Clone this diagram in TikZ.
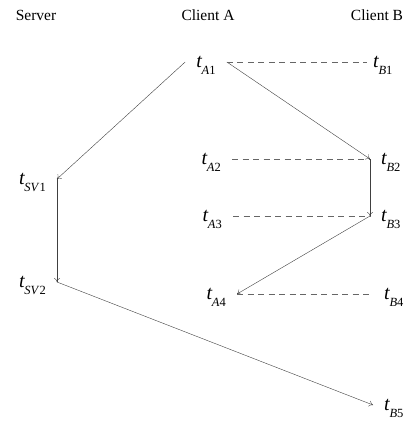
\documentclass[tikz,border=0pt]{standalone}
\usepackage{fontspec}
\setmainfont{Liberation Serif}
\usetikzlibrary{arrows.meta}
\newcommand{\tlab}[2]{\textit{t}\kern-0.6pt\raisebox{-7pt}[0pt][0pt]{\fontsize{12.5}{14}\selectfont\textit{#1}#2}}
\begin{document}
\begin{tikzpicture}[x=1pt,y=-1pt,
  hd/.style={font=\fontsize{15.5}{18}\selectfont, inner sep=0pt},
  lbl/.style={font=\fontsize{20}{24}\selectfont, inner xsep=11pt, inner ysep=0pt},
  msg/.style={draw=black!75, line width=0.4pt, -{To[length=4pt,width=6pt]}},
  sync/.style={draw=black!60, line width=0.4pt, dash pattern=on 6pt off 4.5pt}]
\useasboundingbox (0,0) rectangle (408,421);
% headings
\node[hd, anchor=base] (srv) at (36,20) {Server};
\node[hd, anchor=base] (cla) at (208,20) {Client A};
\node[hd, anchor=base] (clb) at (377,20) {Client B};
% server
\node[lbl, anchor=east] (tSV1) at (57,179) {\tlab{SV}{1}};
\node[lbl, anchor=east] (tSV2) at (57,282) {\tlab{SV}{2}};
% client A
\node[lbl] (tA1) at (206,62) {\tlab{A}{1}};
\node[lbl, anchor=east] (tA2) at (232,159) {\tlab{A}{2}};
\node[lbl, anchor=east] (tA3) at (233,216) {\tlab{A}{3}};
\node[lbl, anchor=east] (tA4) at (237,294) {\tlab{A}{4}};
% client B
\node[lbl, anchor=west, inner xsep=6pt] (tB1) at (367,62) {\tlab{B}{1}};
\node[lbl, anchor=west] (tB2) at (370,159) {\tlab{B}{2}};
\node[lbl, anchor=west] (tB3) at (370,216) {\tlab{B}{3}};
\node[lbl, anchor=west] (tB4) at (373,294) {\tlab{B}{4}};
\node[lbl, anchor=west] (tB5) at (373,405) {\tlab{B}{5}};
% messages
\draw[msg] (tA1.west)--(tSV1.east);
\draw[msg] (tSV1.east)--(tSV2.east);
\draw[msg] (tSV2.east)--(tB5.west);
\draw[msg] (tA1.east)--(tB2.west);
\draw[msg] (tB2.west)--(tB3.west);
\draw[msg] (tB3.west)--(tA4.east);
% same instants
\draw[sync] (tA1.east)--(tB1.west);
\draw[sync] (tA2.east)--(tB2.west);
\draw[sync] (tA3.east)--(tB3.west);
\draw[sync] (tA4.east)--(tB4.west);
\end{tikzpicture}
\end{document}
